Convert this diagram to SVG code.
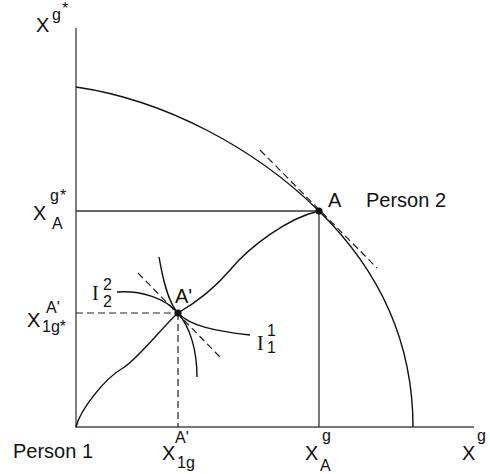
<svg xmlns="http://www.w3.org/2000/svg" width="490" height="474" viewBox="0 0 490 474">
<style>
.ax{stroke:#4a4a4a;stroke-width:1.4;fill:none}
.ln{stroke:#333;stroke-width:1.3;fill:none}
.cv{stroke:#111;stroke-width:1.4;fill:none}
.ds{stroke:#222;stroke-width:1.2;fill:none;stroke-dasharray:7 4}
.t{font-family:"Liberation Sans",Arial,sans-serif;fill:#111}
.big{font-size:20px}
.sm{font-size:16px}
.ser{font-family:"Liberation Serif","Times New Roman",serif;font-size:20px;fill:#111}
</style>
<g id="axes">
<line class="ax" x1="76" y1="28" x2="76" y2="427.5"/>
<line class="ax" x1="75.3" y1="427" x2="474" y2="427"/>
</g>
<g id="connectors">
<path id="frontier" class="cv" d="M76,87 C165,100 255,148 319,211 C376,267 413,337 413,427"/>
<path id="contract" class="cv" d="M76,427 C80,410 105,378 123,368 C138,359 165,324 178,313 C195,303 215,288 230,270 C250,246 288,218 319,211"/>
<line class="ln" x1="76" y1="211" x2="319" y2="211"/>
<line class="ln" x1="319" y1="211" x2="319" y2="427"/>
<line class="ds" x1="76" y1="313" x2="178" y2="313"/>
<line class="ds" x1="178" y1="313" x2="178" y2="427"/>
<line class="ds" x1="260" y1="150" x2="377" y2="268"/>
<line class="ds" x1="138" y1="273" x2="220" y2="357"/>
<path id="I22" class="cv" d="M117,292 C140,290 165,298 178,313 C190,327 197,350 197,377"/>
<path id="I11" class="cv" d="M159,257 C163,280 168,302 178,313 C190,326 215,331 250,335"/>
</g>
<g id="pointA">
<circle cx="319" cy="211" r="3.6" fill="#111"/>
<text class="t big" x="328" y="207">A</text>
</g>
<g id="pointA2">
<circle cx="178" cy="313" r="3.6" fill="#111"/>
<text class="t big" x="175" y="303">A'</text>
</g>
<g id="labels">
<text class="t big" x="366" y="207">Person 2</text>
<text class="t big" x="13" y="458">Person 1</text>
<text class="t big" x="36" y="32">X</text>
<text class="t sm" x="52" y="20">g</text>
<text class="t sm" x="62" y="14">*</text>
<text class="t big" x="33" y="220">X</text>
<text class="t sm" x="50" y="201">g</text>
<text class="t sm" x="60" y="201">*</text>
<text class="t sm" x="52" y="229">A</text>
<text class="t big" x="27" y="327">X</text>
<text class="t sm" x="46" y="313">A'</text>
<text class="t sm" x="42" y="332">1g*</text>
<text class="t big" x="162" y="460">X</text>
<text class="t sm" x="175" y="443">A'</text>
<text class="t sm" x="177" y="468">1g</text>
<text class="t big" x="305" y="460">X</text>
<text class="t sm" x="322" y="441">g</text>
<text class="t sm" x="320" y="471">A</text>
<text class="t big" x="462" y="460">X</text>
<text class="t sm" x="477" y="441">g</text>
<text class="ser" x="92" y="300">I</text>
<text class="t sm" x="103" y="290">2</text>
<text class="t sm" x="103" y="307">2</text>
<text class="ser" x="257" y="350">I</text>
<text class="t sm" x="267" y="336">1</text>
<text class="t sm" x="267" y="353">1</text>
</g>
</svg>
